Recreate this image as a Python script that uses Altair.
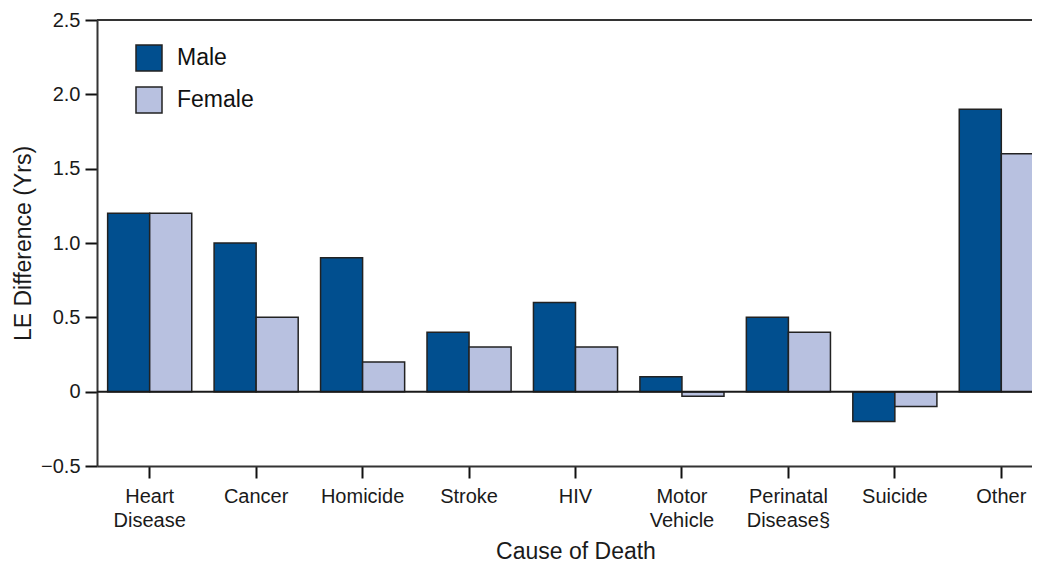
import altair as alt
import pandas as pd

causes = ["Heart Disease", "Cancer", "Homicide", "Stroke", "HIV",
          "Motor Vehicle", "Perinatal Disease§", "Suicide", "Other"]
male = [1.2, 1.0, 0.9, 0.4, 0.6, 0.1, 0.5, -0.2, 1.9]
female = [1.2, 0.5, 0.2, 0.3, 0.3, -0.03, 0.4, -0.1, 1.6]
sexes = ["Male", "Female"]
colors = ["#014f8f", "#b8c1e0"]
y_domain = [-0.5, 2.5]
y_ticks = [-0.5, -0.25, 0, 0.25, 0.5, 0.75, 1.0, 1.25, 1.5, 1.75, 2.0, 2.25, 2.5]

rows = []
for c, m, f in zip(causes, male, female):
    rows.append({"cause": c, "sex": "Male", "value": m})
    rows.append({"cause": c, "sex": "Female", "value": f})
df = pd.DataFrame(rows)

FONT = "Liberation Sans"

label_expr = ("round(datum.value*4) % 2 != 0 ? '' : "
              "(datum.value == 0 ? '0' : (datum.value < 0 ? '\u2212' + format(-datum.value, '.1f') "
              ": format(datum.value, '.1f')))")

yscale = alt.Scale(domain=y_domain, nice=False, zero=False)

bars = alt.Chart(df).mark_bar(stroke="#222222", strokeWidth=1.5).encode(
    x=alt.X("cause:N", sort=causes,
            scale=alt.Scale(range=[0, 957], paddingInner=0.21, paddingOuter=0.1),
            axis=alt.Axis(title="Cause of Death", labelAngle=0,
                          labelExpr="split(datum.label, ' ')",
                          labelLineHeight=24, labelPadding=8,
                          labelFont=FONT, labelFontSize=20, labelColor="#1a1a1a",
                          titleFont=FONT, titleFontSize=23, titleFontWeight="normal",
                          titleColor="#1a1a1a", titlePadding=10,
                          tickSize=12, tickWidth=2, tickColor="#111111",
                          domainColor="#333333", domainWidth=2)),
    xOffset=alt.XOffset("sex:N", sort=sexes),
    y=alt.Y("value:Q", scale=yscale,
            axis=alt.Axis(title="LE Difference (Yrs)", values=y_ticks,
                          labelExpr=label_expr, grid=False,
                          tickSize={"condition": {"test": "round(datum.value*4) % 2 == 0", "value": 12}, "value": 7},
                          tickWidth=2, tickColor="#111111",
                          labelPadding=5, labelFont=FONT, labelFontSize=20,
                          labelColor="#1a1a1a",
                          titleFont=FONT, titleFontSize=23, titleFontWeight="normal",
                          titleColor="#1a1a1a", titlePadding=5,
                          domainColor="#333333", domainWidth=2)),
    color=alt.Color("sex:N", sort=sexes,
                    scale=alt.Scale(domain=sexes, range=colors),
                    legend=alt.Legend(title=None, orient="none", legendX=38, legendY=24,
                                      symbolType="square", symbolSize=676,
                                      symbolStrokeColor="#222222", symbolStrokeWidth=1.5,
                                      labelFont=FONT, labelFontSize=23, labelColor="#111111",
                                      labelOffset=14, rowPadding=10, padding=0)),
)

ref = pd.DataFrame({"n": [0]})

zero_rule = alt.Chart(ref).mark_rule(color="#1a1a1a", strokeWidth=2).encode(
    y=alt.datum(0))
top_rule = alt.Chart(ref).mark_rule(color="#333333", strokeWidth=2).encode(
    y=alt.datum(y_domain[1]))

chart = alt.layer(bars, zero_rule, top_rule).properties(
    width=935, height=446,
    autosize=alt.AutoSizeParams(type="none"),
    padding={"left": 89, "top": 12, "right": 0, "bottom": 99},
    background="white",
).configure_view(stroke=None)

chart.save("out.html", embed_options={"renderer": "svg", "actions": False})
